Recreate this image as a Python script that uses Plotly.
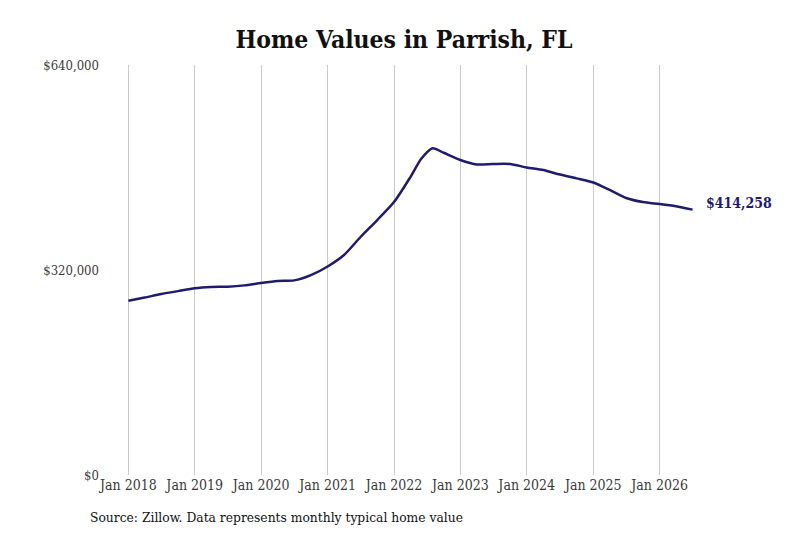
import plotly.graph_objects as go

# Typical home value in Parrish, FL
dates = [
    "2018-01-01", "2018-04-01", "2018-07-01", "2018-10-01",
    "2019-01-01", "2019-04-01", "2019-07-01", "2019-10-01",
    "2020-01-01", "2020-04-01", "2020-07-01", "2020-10-01",
    "2021-01-01", "2021-04-01", "2021-07-01", "2021-10-01",
    "2022-01-01", "2022-04-01", "2022-06-01", "2022-08-01", "2022-10-01",
    "2023-01-01", "2023-04-01", "2023-07-01", "2023-10-01",
    "2024-01-01", "2024-04-01", "2024-07-01", "2024-10-01",
    "2025-01-01", "2025-04-01", "2025-07-01", "2025-10-01",
    "2026-01-01", "2026-04-01", "2026-07-01",
]
values = [
    272000, 277000, 282500, 287000,
    291500, 293500, 294000, 296000,
    299700, 302800, 303800, 312000,
    325500, 343400, 371500, 398000,
    426000, 465000, 494000, 510000, 503000,
    491700, 484700, 485500, 485500,
    480000, 476000, 469000, 463000,
    456600, 445000, 432400, 426000,
    423000, 419500, 414258,
]

tick_dates = ["2018-01-01", "2019-01-01", "2020-01-01", "2021-01-01", "2022-01-01",
              "2023-01-01", "2024-01-01", "2025-01-01", "2026-01-01"]
tick_labels = ["Jan 2018", "Jan 2019", "Jan 2020", "Jan 2021", "Jan 2022",
               "Jan 2023", "Jan 2024", "Jan 2025", "Jan 2026"]

y_ticks = [0, 320000, 640000]
y_labels = ["$0", "$320,000", "$640,000"]

serif = "DejaVu Serif Condensed, DejaVu Serif, serif"
navy = "#1f1b6f"

fig = go.Figure()

fig.add_trace(go.Scatter(
    x=dates,
    y=values,
    mode="lines",
    line=dict(color=navy, width=2.5, shape="spline", smoothing=0.7),
    hoverinfo="skip",
))

# Label for the latest value at the end of the line
fig.add_annotation(
    x=dates[-1], y=values[-1],
    text="<b>$" + f"{values[-1]:,}" + "</b>",
    showarrow=False, xanchor="left", yanchor="middle", xshift=11, yshift=7,
    font=dict(family=serif, size=14, color=navy),
)

# Source note under the chart
fig.add_annotation(
    x=-0.018, y=-0.102, xref="paper", yref="paper",
    text="Source: Zillow. Data represents monthly typical home value",
    showarrow=False, xanchor="left", yanchor="middle",
    font=dict(family=serif, size=13.7, color="#111"),
)

fig.update_layout(
    width=792, height=525,
    margin=dict(l=92, r=20, t=57, b=58),
    paper_bgcolor="white", plot_bgcolor="white",
    showlegend=False,
    title=dict(text="<b>Home Values in Parrish, FL</b>", x=0.5, xanchor="center",
               y=0.941, yanchor="middle",
               font=dict(family=serif, size=24.5, color="#111")),
    font=dict(family=serif, size=13, color="#444"),
)

fig.update_xaxes(
    type="date",
    range=["2017-07-29", "2027-10-25"],
    tickvals=tick_dates, ticktext=tick_labels,
    showgrid=True, gridcolor="#cccccc", gridwidth=1,
    showline=False, zeroline=False, ticks="",
    tickfont=dict(family=serif, size=14, color="#3a3a3a"),
)
fig.update_yaxes(
    range=[0, 640000],
    tickvals=y_ticks, ticktext=y_labels,
    showgrid=False, zeroline=False, showline=False, ticks="",
    tickfont=dict(family=serif, size=13, color="#3a3a3a"),
)

fig.write_html("out.html")
